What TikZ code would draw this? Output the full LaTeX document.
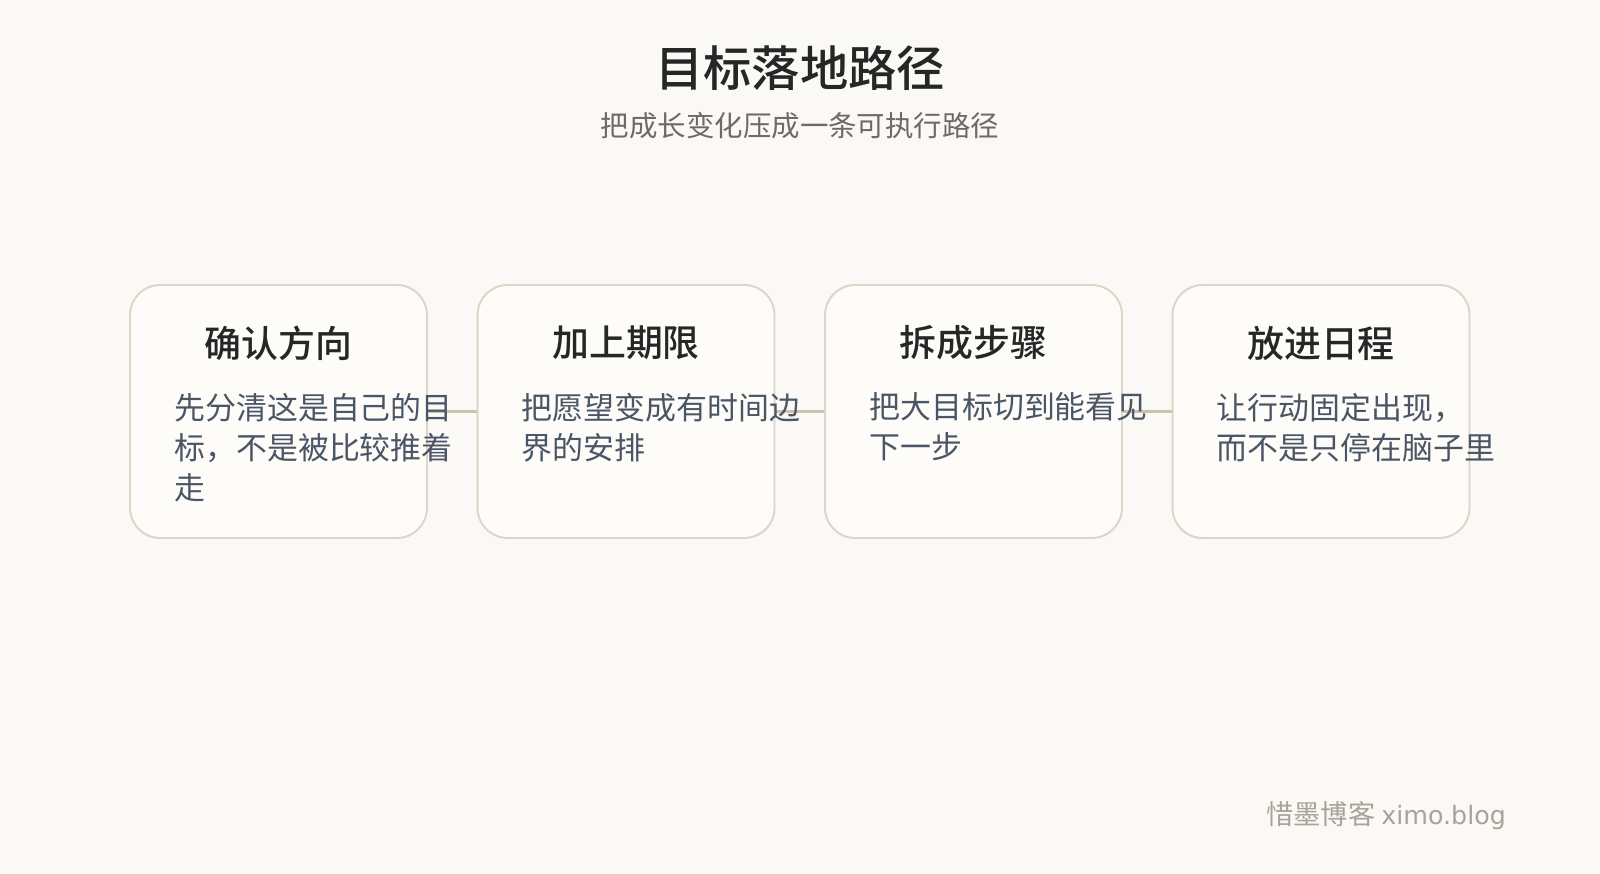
\documentclass[tikz,border=0pt]{standalone}
\usepackage{fontspec}
\setmainfont{Noto Sans CJK SC}[BoldFont={Noto Sans CJK SC Medium}]
\newfontfamily\latinsans{DejaVu Sans}
\usetikzlibrary{calc,positioning}
\definecolor{paper}{HTML}{FAF9F6}
\definecolor{boxfill}{HTML}{FDFCF9}
\definecolor{boxline}{HTML}{DDD5C6}
\definecolor{linkcol}{HTML}{CBC1AD}
\definecolor{ink}{HTML}{262626}
\definecolor{greytext}{HTML}{6E6A64}
\definecolor{slate}{HTML}{4A5565}
\definecolor{footcol}{HTML}{A8A398}
\tikzset{
  stepbox/.style={draw=boxline, fill=boxfill, line width=1.1pt, rounded corners=0.6cm,
    minimum width=5.94cm, minimum height=5.06cm, inner sep=0pt},
  steptitle/.style={font=\fontsize{21}{25}\selectfont\bfseries, text=ink},
  stepnote/.style={font=\fontsize{17.6}{22.8}\selectfont, text=slate, align=left,
    anchor=north west, inner sep=0pt},
  link/.style={draw=linkcol, line width=1.9pt},
}

\begin{document}
\begin{tikzpicture}[x=0.02cm, y=-0.02cm]
			%%%%% START %%%%%
			\fill[paper] (0, 0) rectangle (1600, 874);
			
			\node[font=\fontsize{27.5}{32}\selectfont\bfseries, text=ink] (title) at (800, 68) {目标落地路径};
			\node[font=\fontsize{16.2}{20}\selectfont, text=greytext] (subtitle) at (800, 126) {把成长变化压成一条可执行路径};
			
			\node[stepbox] (b1) at (278.5, 411.5) {};
			\node[stepbox] (b2) at (626, 411.5) {};
			\node[stepbox] (b3) at (973.5, 411.5) {};
			\node[stepbox] (b4) at (1321, 411.5) {};
			
			\draw[link] (b1.east) -- (b2.west);
			\draw[link] (b2.east) -- (b3.west);
			\draw[link] (b3.east) -- (b4.west);
			
			\node[steptitle] (t1) at ($(b1.center)+(0, -68.5)$) {确认方向};
			\node[stepnote] (n1) at ($(b1.west)+(45, -19)$) {先分清这是自己的目\\标，不是被比较推着\\走};
			
			\node[steptitle] (t2) at ($(b2.center)+(0, -68.5)$) {加上期限};
			\node[stepnote] (n2) at ($(b2.west)+(45, -19)$) {把愿望变成有时间边\\界的安排};
			
			\node[steptitle] (t3) at ($(b3.center)+(0, -68.5)$) {拆成步骤};
			\node[stepnote] (n3) at ($(b3.west)+(45, -19)$) {把大目标切到能看见\\下一步};
			
			\node[steptitle] (t4) at ($(b4.center)+(0, -68.5)$) {放进日程};
			\node[stepnote] (n4) at ($(b4.west)+(45, -19)$) {让行动固定出现，\\而不是只停在脑子里};
			
			\node[anchor=east, font=\fontsize{15.5}{18}\selectfont, text=footcol] (footer) at (1512, 816) {惜墨博客 {\latinsans\fontsize{14.4}{18}\selectfont ximo.blog}};
			%%%%% END %%%%%
\end{tikzpicture}
\end{document}
